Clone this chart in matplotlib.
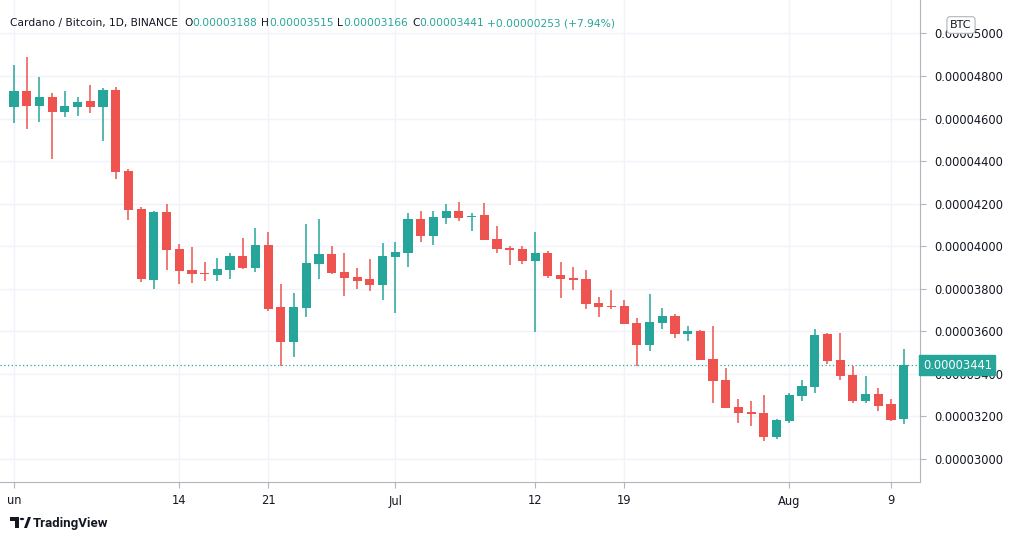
import matplotlib
matplotlib.use("Agg")
import matplotlib.pyplot as plt
from matplotlib.patches import Rectangle, Polygon, Circle
import numpy as np

# ADA/BTC daily, Jun 1 - Aug 10 2021, prices in units of 1e-6 BTC
opens = [46.543, 47.295, 46.59, 47.013, 46.308, 46.543, 46.825, 46.543, 47.342, 43.535,
         41.749, 38.412, 41.608, 39.869, 38.882, 38.741, 38.647, 38.882, 39.54, 38.976,
         40.057, 37.143, 35.498, 37.096, 39.164, 39.634, 38.788, 38.553, 38.459, 38.177,
         39.493, 39.681, 41.279, 40.48, 41.326, 41.655, 41.373, 41.467, 40.339, 39.916,
         39.869, 39.305, 39.681, 38.647, 38.506, 38.459, 37.331, 37.19, 37.19, 36.391,
         35.357, 36.391, 36.72, 35.874, 36.015, 34.699, 33.712, 32.443, 32.208, 32.161,
         31.033, 31.785, 32.96, 33.383, 35.874, 34.652, 33.947, 32.725, 33.054, 32.584,
         31.88]
highs = [48.517, 48.893, 47.953, 47.201, 47.295, 47.013, 47.577, 47.436, 47.483, 43.629,
         41.843, 41.655, 41.984, 40.104, 39.963, 39.258, 39.446, 39.681, 40.386, 40.856,
         40.668, 38.224, 37.801, 41.044, 41.279, 40.01, 39.681, 38.976, 39.399, 40.151,
         40.198, 41.561, 41.655, 41.655, 41.984, 42.078, 41.561, 42.031, 40.95, 40.01,
         40.01, 40.668, 39.775, 39.258, 39.023, 38.882, 37.613, 37.942, 37.472, 36.626,
         37.754, 37.096, 36.814, 36.25, 36.062, 36.25, 34.276, 32.819, 32.725, 33.007,
         31.879, 33.101, 33.712, 36.109, 35.921, 35.921, 34.37, 33.9, 33.336, 32.819,
         35.15]
lows = [45.791, 45.509, 45.838, 44.099, 46.073, 46.12, 46.261, 44.945, 43.159, 41.232,
        38.318, 37.989, 38.882, 38.224, 38.271, 38.365, 38.365, 38.459, 38.929, 38.788,
        36.955, 34.37, 34.793, 36.673, 38.459, 38.694, 37.66, 37.989, 37.895, 37.472,
        36.861, 39.023, 40.198, 40.057, 41.044, 41.185, 40.715, 40.292, 39.681, 39.117,
        39.164, 35.968, 38.506, 37.566, 37.942, 37.049, 36.673, 37.049, 36.344, 34.37,
        35.075, 36.109, 35.686, 35.545, 34.652, 32.631, 32.396, 31.691, 31.55, 30.845,
        30.939, 31.691, 32.725, 33.101, 34.464, 33.712, 32.631, 32.631, 32.255, 31.785,
        31.66]
closes = [47.295, 46.59, 47.013, 46.308, 46.59, 46.778, 46.543, 47.342, 43.488, 41.702,
          38.459, 41.608, 39.822, 38.835, 38.694, 38.694, 38.929, 39.54, 38.976, 40.057,
          37.049, 35.498, 37.143, 39.211, 39.634, 38.741, 38.506, 38.365, 38.177, 39.54,
          39.728, 41.279, 40.48, 41.373, 41.655, 41.326, 41.42, 40.292, 39.869, 39.822,
          39.305, 39.681, 38.6, 38.459, 38.412, 37.284, 37.143, 37.143, 36.344, 35.357,
          36.438, 36.72, 35.874, 36.015, 34.652, 33.665, 32.396, 32.161, 32.114, 31.033,
          31.832, 33.007, 33.43, 35.827, 34.605, 33.9, 32.725, 33.054, 32.49, 31.832,
          34.41]

tick_idx = [0, 13, 20, 30, 41, 48, 61, 69]
tick_labels = ["un", "14", "21", "Jul", "12", "19", "Aug", "9"]
price_ticks = [30, 32, 34, 36, 38, 40, 42, 44, 46, 48, 50]
last_price = 34.41

GREEN = "#26a69a"
RED = "#ef5350"
GRID = "#f0f3fa"
TXT = "#131722"

fig = plt.figure(figsize=(10.12, 5.41), dpi=100)
W, H = 1012, 541
ax = fig.add_axes([0, 1 - 482 / H, 920 / W, 482 / H])

for i in range(len(opens)):
    o, h, l, c = opens[i], highs[i], lows[i], closes[i]
    col = GREEN if c >= o else RED
    ax.plot([i, i], [l, h], color=col, lw=1.1, solid_capstyle="butt", zorder=3)
    bot = min(o, c)
    ht = max(abs(c - o), 0.05)
    ax.add_patch(Rectangle((i - 0.36, bot), 0.72, ht, color=col, lw=0, zorder=4))

ax.set_xlim(-1.1, 71.28)
ax.set_ylim(28.92, 51.57)
ax.set_xticks(tick_idx)
ax.set_xticklabels(tick_labels)
ax.set_yticks(price_ticks)
ax.set_yticklabels(["%.8f" % (p * 1e-6) for p in price_ticks])
ax.yaxis.tick_right()
ax.grid(True, color=GRID, lw=1)
ax.set_axisbelow(True)
ax.tick_params(axis="both", length=4, color="#b2b5be", labelsize=8.3, labelcolor=TXT)
ax.tick_params(axis="y", pad=6)
ax.tick_params(axis="x", pad=5)
for s in ["top", "left"]:
    ax.spines[s].set_visible(False)
for s in ["right", "bottom"]:
    ax.spines[s].set_color("#b2b5be")

# current price line and label
ax.axhline(last_price, color=GREEN, lw=0.9, ls=(0, (1, 2)), zorder=2)
ax.text(1.003, last_price, "%.8f" % (last_price * 1e-6), transform=ax.get_yaxis_transform(),
        ha="left", va="center", fontsize=8.3, color="white", clip_on=False, zorder=10,
        bbox=dict(boxstyle="square,pad=0.3", fc=GREEN, ec=GREEN))

# BTC badge
fig.text(961 / W, 1 - 25 / H, "BTC", ha="center", va="center", fontsize=8, color=TXT,
         bbox=dict(boxstyle="round,pad=0.3", fc="white", ec="#b2b5be", lw=0.8))

# header, laid out piece by piece
hy = 1 - 23 / H
fs = 7.7
pieces = [("Cardano / Bitcoin, 1D, BINANCE", TXT, 6), ("O", TXT, 0), ("0.00003188", GREEN, 4),
          ("H", TXT, 0), ("0.00003515", GREEN, 4), ("L", TXT, 0), ("0.00003166", GREEN, 4),
          ("C", TXT, 0), ("0.00003441", GREEN, 3), ("+0.00000253 (+7.94%)", GREEN, 0)]
renderer = fig.canvas.get_renderer()
xpos = 10
for s, col, gap in pieces:
    t = fig.text(xpos / W, hy, s, fontsize=fs, color=col, va="center")
    xpos += t.get_window_extent(renderer).width + gap

# TradingView logo
fig.patches.append(Polygon([[10 / W, 1 - 517 / H], [19 / W, 1 - 517 / H], [19 / W, 1 - 528 / H],
                            [15 / W, 1 - 528 / H], [15 / W, 1 - 521 / H], [10 / W, 1 - 521 / H]],
                           closed=True, transform=fig.transFigure, fc=TXT, ec="none"))
fig.patches.append(Circle((22 / W, 1 - 519 / H), 2.2 / W, transform=fig.transFigure, fc=TXT))
fig.patches.append(Polygon([[24 / W, 1 - 528 / H], [28 / W, 1 - 517 / H], [31 / W, 1 - 517 / H],
                            [27 / W, 1 - 528 / H]], closed=True, transform=fig.transFigure,
                           fc=TXT, ec="none"))
fig.text(33 / W, 1 - 523 / H, "TradingView", fontsize=9.5, color=TXT, va="center",
         fontweight="bold", family="Roboto")

fig.savefig("out.png", dpi=100, facecolor="white")
